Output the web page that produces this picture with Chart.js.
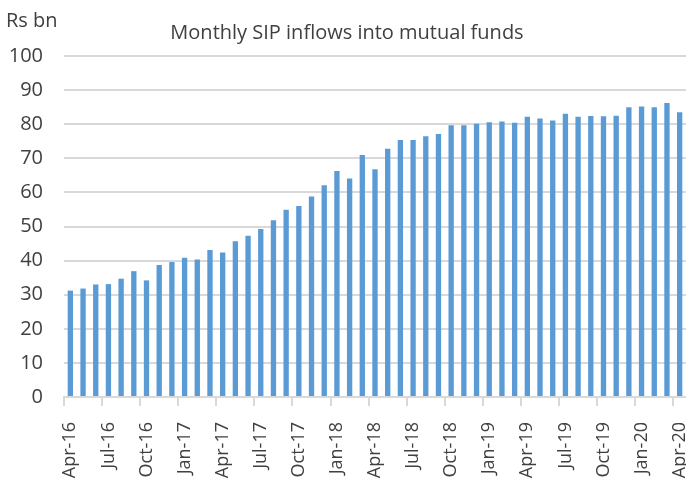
<!DOCTYPE html>
<html lang="en">
<head>
  <meta charset="UTF-8">
  <title>Monthly SIP inflows into mutual funds</title>
  <script src="https://cdn.jsdelivr.net/npm/chart.js"></script>
  <style>
    html, body { margin: 0; padding: 0; background: #fff; }
    .wrap { width: 686px; height: 480px; position: relative; }
  </style>
</head>
<body>
<div class="wrap"><canvas id="sipChart" width="686" height="480"></canvas></div>

<script>
  const months = [
    'Apr-16','May-16','Jun-16','Jul-16','Aug-16','Sep-16','Oct-16','Nov-16','Dec-16',
    'Jan-17','Feb-17','Mar-17','Apr-17','May-17','Jun-17','Jul-17','Aug-17','Sep-17',
    'Oct-17','Nov-17','Dec-17','Jan-18','Feb-18','Mar-18','Apr-18','May-18','Jun-18',
    'Jul-18','Aug-18','Sep-18','Oct-18','Nov-18','Dec-18','Jan-19','Feb-19','Mar-19',
    'Apr-19','May-19','Jun-19','Jul-19','Aug-19','Sep-19','Oct-19','Nov-19','Dec-19',
    'Jan-20','Feb-20','Mar-20','Apr-20'
  ];
  const sipInflows = [
    31.2, 31.8, 33.0, 33.1, 34.7, 36.9, 34.2, 38.7, 39.6,
    40.8, 40.3, 43.1, 42.4, 45.7, 47.3, 49.3, 51.8, 54.9,
    56.0, 58.8, 62.1, 66.3, 64.1, 71.0, 66.8, 72.8, 75.4,
    75.4, 76.5, 77.1, 79.7, 79.7, 80.1, 80.6, 80.8, 80.4,
    82.2, 81.7, 81.1, 83.1, 82.2, 82.4, 82.3, 82.5, 85.0,
    85.2, 85.0, 86.2, 83.5
  ];
  const yTicks = { min: 0, max: 100, step: 10 };
  const labelEvery = 3;

  const textColor = '#404040';
  const gridColor = '#d9d9d9';
  const fontFamily = '"Open Sans", "Liberation Sans", sans-serif';

  // title and unit label are drawn by hand so they sit where the original has them
  const headerText = {
    id: 'headerText',
    afterDraw(chart) {
      const ctx = chart.ctx;
      ctx.save();
      ctx.fillStyle = textColor;
      ctx.textBaseline = 'middle';
      ctx.font = '20px ' + fontFamily;
      ctx.textAlign = 'left';
      ctx.fillText('Rs bn', 6, 21);
      ctx.textAlign = 'center';
      ctx.fillText('Monthly SIP inflows into mutual funds', 347, 33);
      ctx.restore();
    }
  };

  new Chart(document.getElementById('sipChart'), {
    type: 'bar',
    data: {
      labels: months,
      datasets: [{
        data: sipInflows,
        backgroundColor: '#5b9bd5',
        barPercentage: 0.42,
        categoryPercentage: 1
      }]
    },
    options: {
      responsive: false,
      animation: false,
      layout: { padding: { top: 56, right: 0, left: 0, bottom: 0 } },
      plugins: {
        legend: { display: false },
        title: { display: false },
        tooltip: { enabled: false }
      },
      scales: {
        x: {
          afterFit(scale) {
            scale.height = 83;
            // the last label is allowed to run off the edge, like the original
            scale.paddingLeft = 0;
            scale.paddingRight = 0;
          },
          border: { display: true, color: gridColor, width: 2 },
          grid: {
            drawOnChartArea: false,
            drawTicks: true,
            tickLength: 9,
            lineWidth: 2,
            color: ctx => (ctx.index % labelEvery === 0 ? gridColor : 'rgba(0,0,0,0)')
          },
          ticks: {
            autoSkip: false,
            minRotation: 90,
            maxRotation: 90,
            padding: 16,
            color: textColor,
            font: { family: fontFamily, size: 18 },
            callback: (v, i) => (i % labelEvery === 0 ? months[i] : '')
          }
        },
        y: {
          min: yTicks.min,
          max: yTicks.max,
          afterFit(scale) { scale.width = 64; },
          border: { display: false },
          grid: { color: gridColor, lineWidth: 2, drawTicks: false },
          ticks: {
            stepSize: yTicks.step,
            padding: 21,
            color: textColor,
            font: { family: fontFamily, size: 20 }
          }
        }
      }
    },
    plugins: [headerText]
  });
</script>
</body>
</html>
